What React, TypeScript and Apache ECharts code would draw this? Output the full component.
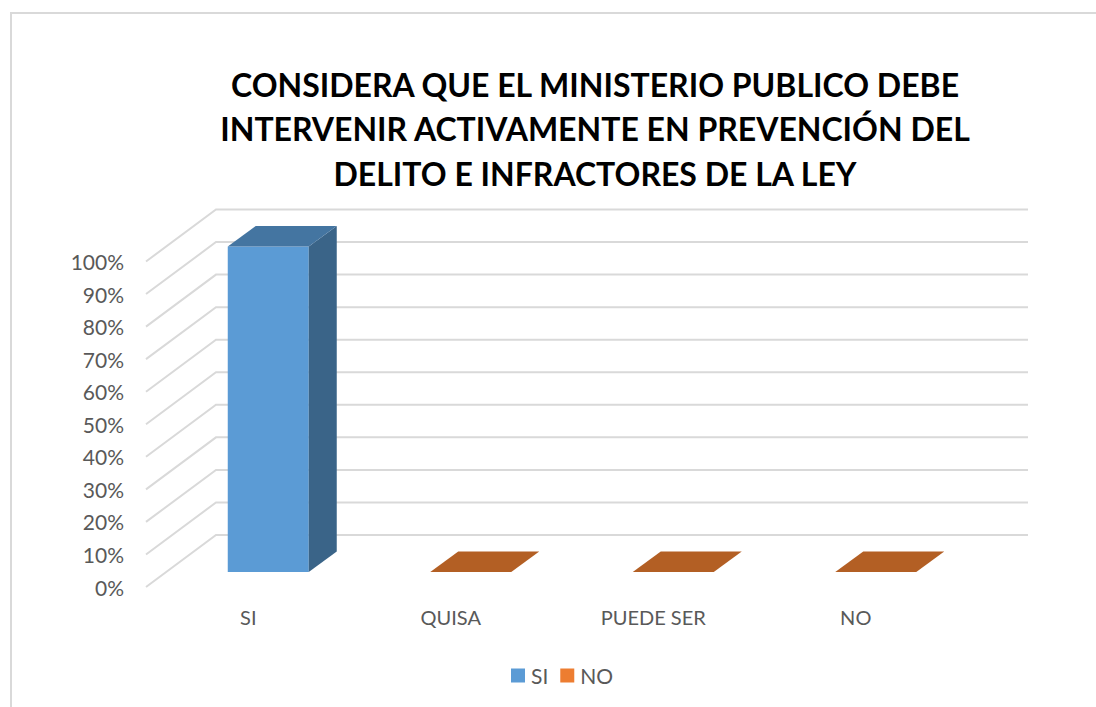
import React, { useEffect, useRef } from "react";
import * as echarts from "echarts";

const categories = ["SI", "QUISA", "PUEDE SER", "NO"];
const siValues: (number | null)[] = [100, null, null, null];
const noValues: (number | null)[] = [null, 0, 0, 0];
const yTicks = [0, 10, 20, 30, 40, 50, 60, 70, 80, 90, 100];
const titleLines = [
  "CONSIDERA QUE EL MINISTERIO PUBLICO DEBE",
  "INTERVENIR ACTIVAMENTE EN PREVENCIÓN DEL",
  "DELITO E INFRACTORES DE LA LEY",
];

const FONT = "Lato, 'Open Sans', sans-serif";
const WALL_DX = 70;
const WALL_DY = 52;
const BAR_OFF_X = 21;
const BAR_OFF_Y = 15;
const BAR_DX = 28;
const BAR_DY = 20.5;

const toPairs = (vals: (number | null)[]) =>
  vals.map((v, i) => [i, v]).filter((p) => p[1] !== null);

const renderWall = (params: any, api: any) => {
  const cs = params.coordSys;
  const y = api.coord([0, api.value(1)])[1];
  return {
    type: "polyline",
    shape: {
      points: [
        [cs.x, y],
        [cs.x + WALL_DX, y - WALL_DY],
        [1028, y - WALL_DY],
      ],
    },
    style: { fill: "none", stroke: "#D9D9D9", lineWidth: 2 },
    silent: true,
  };
};

const makeBar = (front: string, top: string, side: string) => (params: any, api: any) => {
  const p = api.coord([api.value(0), api.value(1)]);
  const base = api.coord([api.value(0), 0]);
  const w = api.size([1, 0])[0] * 0.4;
  const x0 = p[0] - w / 2 + BAR_OFF_X;
  const x1 = x0 + w;
  const yTop = p[1] - BAR_OFF_Y;
  const yBase = base[1] - BAR_OFF_Y;
  const children: any[] = [];
  if (yBase - yTop > 0.5) {
    children.push({
      type: "rect",
      shape: { x: x0, y: yTop, width: w, height: yBase - yTop },
      style: { fill: front },
    });
    children.push({
      type: "polygon",
      shape: {
        points: [
          [x1, yTop],
          [x1 + BAR_DX, yTop - BAR_DY],
          [x1 + BAR_DX, yBase - BAR_DY],
          [x1, yBase],
        ],
      },
      style: { fill: side },
    });
  }
  children.push({
    type: "polygon",
    shape: {
      points: [
        [x0, yTop],
        [x0 + BAR_DX, yTop - BAR_DY],
        [x1 + BAR_DX, yTop - BAR_DY],
        [x1, yTop],
      ],
    },
    style: { fill: top },
  });
  return { type: "group", children };
};

export default function App() {
  const ref = useRef<HTMLDivElement>(null);
  useEffect(() => {
    const chart = echarts.init(ref.current!, null, { renderer: "svg" });
    chart.setOption({
      animation: false,
      backgroundColor: "#FFFFFF",
      title: {
        text: titleLines.join("\n"),
        left: 590,
        top: 57,
        textAlign: "center",
        textStyle: {
          fontFamily: FONT,
          fontSize: 32,
          fontWeight: "bold",
          color: "#000000",
          lineHeight: 44.5,
        },
      },
      legend: {
        data: [
          { name: "SI", icon: "rect", itemStyle: { color: "#5B9BD5" } },
          { name: "NO", icon: "rect", itemStyle: { color: "#ED7D31" } },
        ],
        left: 506,
        top: 660,
        itemWidth: 14,
        itemHeight: 14,
        itemGap: 12,
        textStyle: { fontFamily: FONT, fontSize: 21, color: "#595959", padding: [0, 0, 0, 1] },
      },
      grid: { left: 146, top: 261.5, width: 810, height: 325.5 },
      xAxis: {
        type: "category",
        data: categories,
        axisLine: { show: false },
        axisTick: { show: false },
        splitLine: { show: false },
        axisLabel: {
          fontFamily: FONT,
          fontSize: 20,
          color: "#595959",
          margin: 20,
          padding: [0, 0, 0, 2],
        },
      },
      yAxis: {
        type: "value",
        min: 0,
        max: 100,
        interval: 10,
        axisLine: { show: false },
        axisTick: { show: false },
        splitLine: { show: false },
        axisLabel: {
          fontFamily: FONT,
          fontSize: 21,
          color: "#595959",
          margin: 22,
          padding: [2, 0, 0, 0],
          formatter: "{value}%",
        },
      },
      graphic: [
        {
          type: "polyline",
          z: -1,
          shape: { points: [[11, 707], [11, 13], [1096, 13]] },
          style: { fill: "none", stroke: "#D9D9D9", lineWidth: 2 },
        },
      ],
      series: [
        {
          type: "custom",
          name: "walls",
          data: yTicks.map((t) => [0, t]),
          renderItem: renderWall,
          clip: false,
          silent: true,
          z: 1,
        },
        {
          type: "custom",
          name: "SI",
          data: toPairs(siValues),
          renderItem: makeBar("#5B9BD5", "#4475A1", "#3A6488"),
          itemStyle: { color: "#5B9BD5" },
          clip: false,
          z: 2,
        },
        {
          type: "custom",
          name: "NO",
          data: toPairs(noValues),
          renderItem: makeBar("#ED7D31", "#B35F24", "#9E5320"),
          itemStyle: { color: "#ED7D31" },
          clip: false,
          z: 2,
        },
      ],
    });
    return () => chart.dispose();
  }, []);
  return (
    <div
      ref={ref}
      style={{ position: "fixed", left: 0, top: 0, width: 1096, height: 707 }}
    />
  );
}
